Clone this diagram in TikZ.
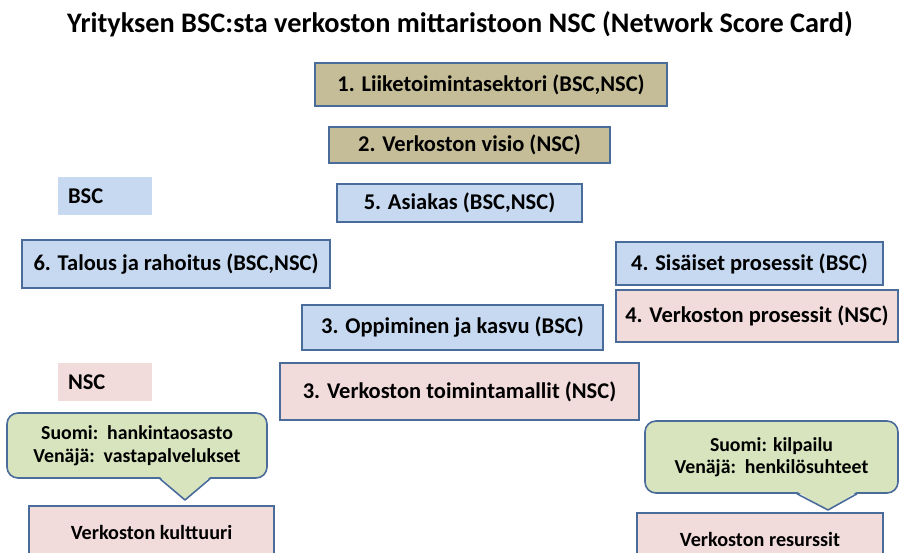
\documentclass[tikz,border=0pt]{standalone}
\usepackage{fontspec}
\setmainfont{Carlito}
\definecolor{edge}{HTML}{4A6C9B}
\definecolor{tan}{HTML}{C4BD97}
\definecolor{bsc}{HTML}{C6D9F1}
\definecolor{nsc}{HTML}{F2DCDB}
\definecolor{note}{HTML}{D7E4BD}
\begin{document}
\begin{tikzpicture}[x=1pt,y=-1pt,
  box/.style={draw=edge,line width=1.6pt,inner sep=0pt,font=\bfseries\fontsize{22.5}{24}\selectfont},
  small/.style={draw=edge,line width=1.6pt,inner sep=0pt,font=\bfseries\fontsize{20.2}{22}\selectfont},
  legend/.style={inner sep=0pt,font=\bfseries\fontsize{22.5}{24}\selectfont,align=left},
  notebox/.style={draw=edge,fill=note,line width=1.6pt,rounded corners=11pt,inner sep=0pt,align=center,font=\bfseries\fontsize{19.8}{22.5}\selectfont}]
\useasboundingbox (0,0) rectangle (900,553);
\clip (0,0) rectangle (900,553);
\fill[white] (0,0) rectangle (900,553);

\node[font=\bfseries\fontsize{28.3}{30}\selectfont] (title) at (460,24) {Yrityksen BSC:sta verkoston mittaristoon NSC (Network Score Card)};

\node[box,fill=tan,minimum width=352pt,minimum height=43pt] (b1) at (491,84.5) {1. Liiketoimintasektori (BSC,NSC)};
\node[box,fill=tan,minimum width=281pt,minimum height=36pt] (b2) at (469.5,145) {2. Verkoston visio (NSC)};
\node[box,fill=bsc,minimum width=245pt,minimum height=38pt] (b5) at (459.5,203) {5. Asiakas (BSC,NSC)};
\node[box,fill=bsc,minimum width=308pt,minimum height=48pt] (b6) at (176,264) {6. Talous ja rahoitus (BSC,NSC)};
\node[box,fill=bsc,minimum width=267pt,minimum height=43pt] (b4a) at (749.5,263.5) {4. Sisäiset prosessit (BSC)};
\node[box,fill=nsc,minimum width=282pt,minimum height=52pt] (b4b) at (757,316) {4. Verkoston prosessit (NSC)};
\node[box,fill=bsc,minimum width=301pt,minimum height=45pt] (b3a) at (452.5,327.5) {3. Oppiminen ja kasvu (BSC)};
\node[box,fill=nsc,minimum width=359pt,minimum height=57pt] (b3b) at (459.5,391.5) {3. Verkoston toimintamallit (NSC)};

\node[legend,fill=bsc,minimum height=38pt,inner xsep=10pt,text width=74pt] (lb) at (105,196) {BSC};
\node[legend,fill=nsc,minimum height=38pt,inner xsep=10pt,text width=74pt] (ln) at (105,382) {NSC};

% culture box and its note
\node[small,fill=nsc,minimum width=245pt,minimum height=52pt] (kult) at (151.5,532) {Verkoston kulttuuri};
\node[notebox,minimum width=260pt,minimum height=65pt] (nl) at (137,445.5) {Suomi:\ \ hankintaosasto\\Venäjä:\ \ vastapalvelukset};
\coordinate (tl) at (185,500);
\fill[note] (159,476) -- (tl) -- (211,476) -- cycle;
\draw[edge,line width=1.6pt,line join=round] (nl.south -| 160,0) -- (tl) -- (nl.south -| 210,0);

% resources box and its note
\node[small,fill=nsc,minimum width=246pt,minimum height=52pt] (res) at (760,539) {Verkoston resurssit};
\node[notebox,minimum width=253pt,minimum height=72pt] (nr) at (771.5,457) {Suomi: kilpailu\\Venäjä:\ \ henkilösuhteet};
\coordinate (tr) at (828,510);
\fill[note] (796,491) -- (tr) -- (858,491) -- cycle;
\draw[edge,line width=1.6pt,line join=round] (nr.south -| 797,0) -- (tr) -- (nr.south -| 857,0);
\end{tikzpicture}
\end{document}
